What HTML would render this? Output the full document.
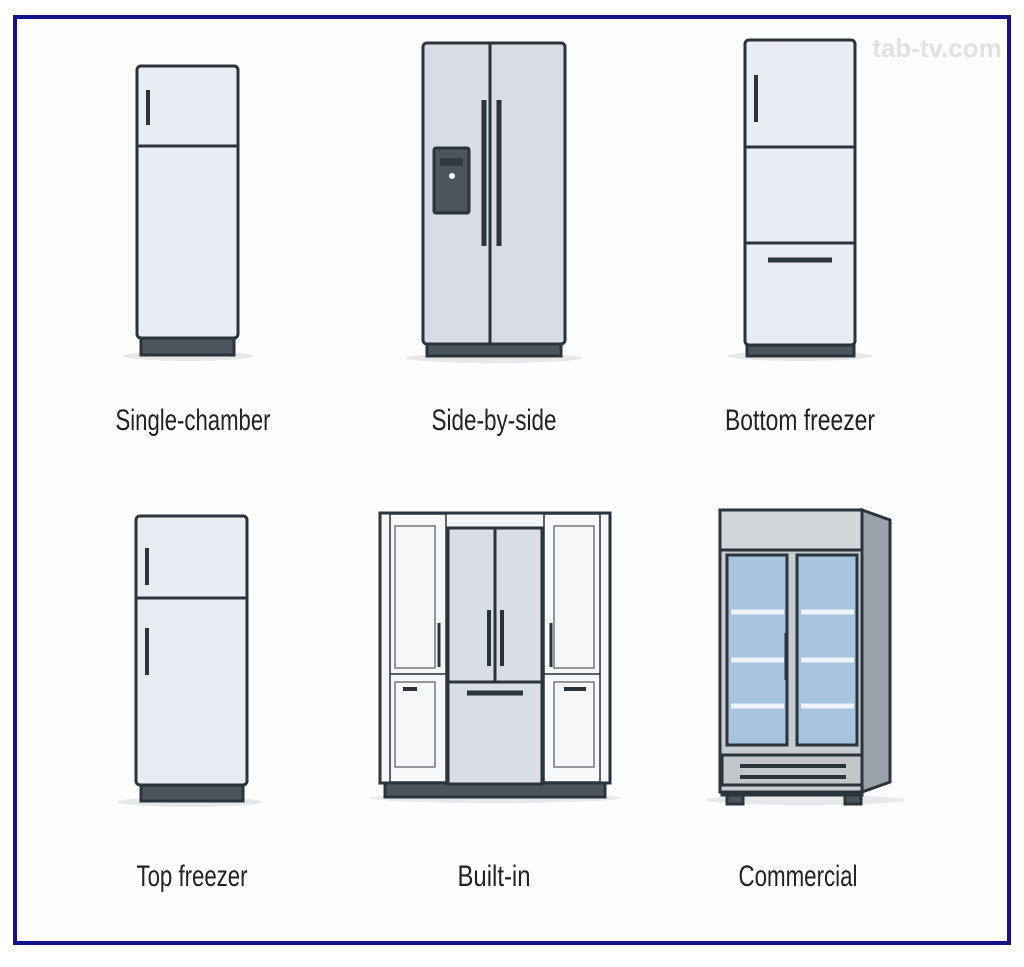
<!DOCTYPE html>
<html><head><style>
body{margin:0;background:#fff;width:1024px;height:967px;overflow:hidden}
svg{display:block}
text{font-family:"Liberation Sans",sans-serif;fill:#222;font-size:30px;text-anchor:middle}
</style></head><body>
<svg width="1024" height="967" viewBox="0 0 1024 967">
<rect x="0" y="0" width="1024" height="967" fill="#fff"/>
<rect x="15" y="17" width="994" height="926" fill="#fdfdfe" stroke="#14148a" stroke-width="4"/>
<text x="937" y="57" style="font-family:'Liberation Sans',sans-serif;font-size:26px;fill:#e2e2e2;font-weight:bold">tab-tv.com</text>
<g stroke="#2a343c" stroke-width="3">
<ellipse cx="188" cy="356" rx="65" ry="5" fill="#e6e8ea" stroke="none"/>
<rect x="141" y="337" width="93" height="18" fill="#4a555e"/>
<rect x="137" y="66" width="101" height="272" rx="4" fill="#e9edf3"/>
<line x1="137" y1="146" x2="238" y2="146"/>
<line x1="148" y1="90" x2="148" y2="125" stroke-width="4"/>
<ellipse cx="494" cy="358" rx="88" ry="5" fill="#e6e8ea" stroke="none"/>
<rect x="427" y="342" width="134" height="14" fill="#4a555e"/>
<rect x="423" y="43" width="142" height="301" rx="4" fill="#d9dde3"/>
<line x1="490" y1="43" x2="490" y2="344"/>
<line x1="484" y1="100" x2="484" y2="246" stroke-width="5"/>
<line x1="499" y1="100" x2="499" y2="246" stroke-width="5"/>
<rect x="434" y="148" width="35" height="65" rx="2" fill="#4a555e"/>
<rect x="440" y="158" width="23" height="8" fill="#2f3a42" stroke="none"/>
<circle cx="452" cy="176" r="3" fill="#fff" stroke="none"/>
<ellipse cx="800" cy="356" rx="72" ry="5" fill="#e6e8ea" stroke="none"/>
<rect x="747" y="343" width="107" height="13" fill="#4a555e"/>
<rect x="745" y="40" width="110" height="305" rx="4" fill="#e9edf3"/>
<line x1="745" y1="147" x2="855" y2="147"/>
<line x1="745" y1="243" x2="855" y2="243"/>
<line x1="756" y1="75" x2="756" y2="122" stroke-width="4"/>
<line x1="768" y1="260" x2="832" y2="260" stroke-width="5"/>
<ellipse cx="190" cy="802" rx="72" ry="5" fill="#e6e8ea" stroke="none"/>
<rect x="141" y="783" width="102" height="18" fill="#4a555e"/>
<rect x="136" y="516" width="111" height="269" rx="4" fill="#e9edf3"/>
<line x1="136" y1="598" x2="247" y2="598"/>
<line x1="147" y1="548" x2="147" y2="585" stroke-width="4"/>
<line x1="147" y1="628" x2="147" y2="675" stroke-width="4"/>
<ellipse cx="495" cy="798" rx="125" ry="5" fill="#e6e8ea" stroke="none"/>
<rect x="385" y="782" width="220" height="15" fill="#4a555e"/>
<rect x="380" y="513" width="230" height="270" fill="#f4f5f6"/>
<rect x="390" y="514" width="56" height="268" fill="#f6f7f8" stroke-width="1.5"/>
<rect x="544" y="514" width="56" height="268" fill="#f6f7f8" stroke-width="1.5"/>
<line x1="390" y1="674" x2="446" y2="674" stroke-width="1.5"/>
<line x1="544" y1="674" x2="600" y2="674" stroke-width="1.5"/>
<rect x="395" y="526" width="40" height="142" fill="none" stroke="#777" stroke-width="1.5"/>
<rect x="395" y="682" width="40" height="85" fill="none" stroke="#777" stroke-width="1.5"/>
<rect x="554" y="526" width="40" height="142" fill="none" stroke="#777" stroke-width="1.5"/>
<rect x="554" y="682" width="40" height="85" fill="none" stroke="#777" stroke-width="1.5"/>
<line x1="439" y1="623" x2="439" y2="667" stroke-width="3"/>
<line x1="551" y1="623" x2="551" y2="667" stroke-width="3"/>
<line x1="403" y1="689" x2="417" y2="689" stroke-width="4"/>
<line x1="564" y1="689" x2="586" y2="689" stroke-width="4"/>
<rect x="448" y="528" width="94" height="256" fill="#d9dee5"/>
<line x1="495" y1="528" x2="495" y2="682"/>
<line x1="448" y1="682" x2="542" y2="682"/>
<line x1="489" y1="610" x2="489" y2="666" stroke-width="4"/>
<line x1="502" y1="610" x2="502" y2="666" stroke-width="4"/>
<line x1="467" y1="693" x2="523" y2="693" stroke-width="5"/>
<ellipse cx="805" cy="800" rx="100" ry="5" fill="#e6e8ea" stroke="none"/>
<rect x="727" y="785" width="16" height="19" fill="#4a555e"/>
<rect x="845" y="785" width="16" height="19" fill="#4a555e"/>
<rect x="722" y="785" width="140" height="10" fill="#4a555e"/>
<polygon points="862,510 890,520 890,782 862,792" fill="#9aa3ab"/>
<rect x="720" y="510" width="142" height="282" fill="#c8cdd2"/>
<rect x="720" y="510" width="142" height="40" fill="#d3d6da"/>
<rect x="727" y="555" width="60" height="190" fill="#a7c3dd"/>
<rect x="797" y="555" width="60" height="190" fill="#a7c3dd"/>
<g stroke="#eef4fa" stroke-width="5"><line x1="731" y1="612" x2="784" y2="612"/><line x1="731" y1="660" x2="784" y2="660"/><line x1="731" y1="706" x2="784" y2="706"/><line x1="801" y1="612" x2="854" y2="612"/><line x1="801" y1="660" x2="854" y2="660"/><line x1="801" y1="706" x2="854" y2="706"/></g>
<line x1="786" y1="633" x2="786" y2="680" stroke-width="3"/>
<line x1="797" y1="633" x2="797" y2="680" stroke-width="3"/>
<rect x="722" y="755" width="140" height="30" fill="#c3c7cb"/>
<line x1="740" y1="766" x2="846" y2="766" stroke-width="4"/>
<line x1="740" y1="777" x2="846" y2="777" stroke-width="4"/>
</g>
<text x="193" y="430" textLength="155" lengthAdjust="spacingAndGlyphs">Single-chamber</text>
<text x="494" y="430" textLength="125" lengthAdjust="spacingAndGlyphs">Side-by-side</text>
<text x="800" y="430" textLength="150" lengthAdjust="spacingAndGlyphs">Bottom freezer</text>
<text x="192" y="886" textLength="111" lengthAdjust="spacingAndGlyphs">Top freezer</text>
<text x="494" y="886" textLength="73" lengthAdjust="spacingAndGlyphs">Built-in</text>
<text x="798" y="886" textLength="119" lengthAdjust="spacingAndGlyphs">Commercial</text>
</svg>
</body></html>
